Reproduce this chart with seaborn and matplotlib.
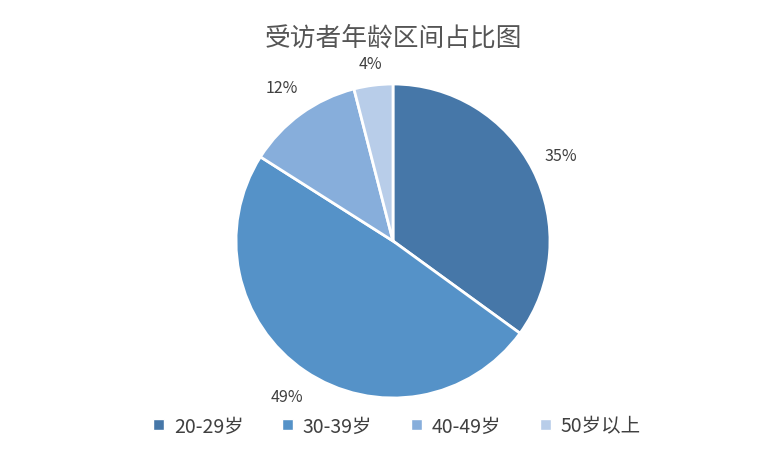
import matplotlib
matplotlib.use("Agg")
import matplotlib.pyplot as plt
import seaborn as sns
import numpy as np
from matplotlib.patches import Patch

sns.set_theme(style="white")
plt.rcParams['font.family'] = ['Noto Sans CJK SC', 'DejaVu Sans']

categories = ["20-29岁", "30-39岁", "40-49岁", "50岁以上"]
values = [35, 49, 12, 4]
colors = ["#4677A8", "#5592C8", "#87AEDB", "#B8CDE9"]
label_dist = [1.2, 1.2, 1.21, 1.14]

fig = plt.figure(figsize=(7.83, 4.6), dpi=100)
ax = fig.add_axes([(393-157)/783, (218-157)/460, 314/783, 314/460])
wedges, texts, autotexts = ax.pie(values, colors=colors, startangle=90, counterclock=False,
       autopct=lambda p: f"{p:.0f}%", pctdistance=1.2,
       wedgeprops=dict(edgecolor="white", linewidth=2),
       textprops=dict(color="#404040", fontsize=11.5))
for w, t, d in zip(wedges, autotexts, label_dist):
    ang = np.deg2rad((w.theta1 + w.theta2) / 2)
    t.set_position((d * np.cos(ang), d * np.sin(ang)))
ax.set_xlim(-1, 1); ax.set_ylim(-1, 1); ax.set_aspect("equal")
ax.axis("off")
fig.text(393/783, 1-39/460, "受访者年龄区间占比图", ha="center", va="center",
         fontsize=18.5, color="#555555")
handles = [Patch(facecolor=c, label=l) for c, l in zip(colors, categories)]
fig.legend(handles=handles, loc="center", bbox_to_anchor=(397/783, 1-427/460),
           ncol=4, frameon=False, fontsize=14, handlelength=0.55, handleheight=0.55,
           columnspacing=2.0, handletextpad=0.5, labelcolor="#404040")
fig.savefig("out.png", dpi=100)
